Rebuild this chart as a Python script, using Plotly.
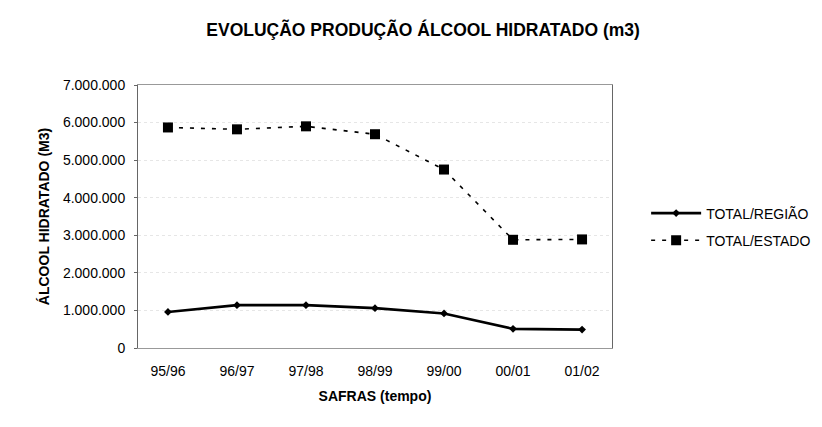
import plotly.graph_objects as go

safras = ["95/96", "96/97", "97/98", "98/99", "99/00", "00/01", "01/02"]
total_regiao = [960000, 1140000, 1140000, 1060000, 920000, 510000, 490000]
total_estado = [5870000, 5820000, 5900000, 5690000, 4750000, 2880000, 2890000]
y_ticks = [0, 1000000, 2000000, 3000000, 4000000, 5000000, 6000000, 7000000]

font_family = "Liberation Sans, Arial, sans-serif"

fig = go.Figure()
fig.add_trace(go.Scatter(
    x=safras, y=total_regiao, name="TOTAL/REGIÃO", mode="lines+markers",
    legendgroup="a",
    line=dict(color="black", width=2.6),
    marker=dict(symbol="diamond", size=6, color="black"),
))
fig.add_trace(go.Scatter(
    x=safras, y=total_estado, name="TOTAL/ESTADO", mode="lines+markers",
    legendgroup="b",
    line=dict(color="black", width=1.6, dash="4px,7px"),
    marker=dict(symbol="square", size=10, color="black"),
))

fig.update_layout(
    width=814, height=419,
    paper_bgcolor="white", plot_bgcolor="white",
    separators=",.",
    font=dict(family=font_family, size=14, color="black"),
    margin=dict(l=130, r=210, t=77, b=79, autoexpand=False),
    title=dict(text="<b>EVOLUÇÃO PRODUÇÃO ÁLCOOL HIDRATADO (m3)</b>",
               x=0.51, xanchor="center", y=0.947, yanchor="middle",
               font=dict(size=17.5, family=font_family)),
    showlegend=True,
    legend=dict(x=1.072, y=0.46, xanchor="left", yanchor="middle",
                font=dict(size=14, family=font_family),
                bgcolor="rgba(0,0,0,0)", itemwidth=50, tracegroupgap=6),
    xaxis=dict(
        title=dict(text="<b>SAFRAS (tempo)</b>", font=dict(size=14), standoff=13),
        showline=True, linecolor="#999999", linewidth=1, mirror=True,
        ticks="", showgrid=False, tickfont=dict(size=14),
        ticklabelstandoff=10,
    ),
    yaxis=dict(
        title=dict(text="<b>ÁLCOOL HIDRATADO (M3)</b>", font=dict(size=14), standoff=10),
        range=[0, 7000000], tickvals=y_ticks, tickformat=",d",
        showline=True, linecolor="#666666", linewidth=1, mirror=True,
        ticks="outside", ticklen=3, tickcolor="#666666",
        showgrid=True, gridcolor="#e6e6e6", griddash="dot", gridwidth=1,
        zeroline=False, tickfont=dict(size=14), ticklabelstandoff=6,
    ),
)

fig.write_html("out.html")
